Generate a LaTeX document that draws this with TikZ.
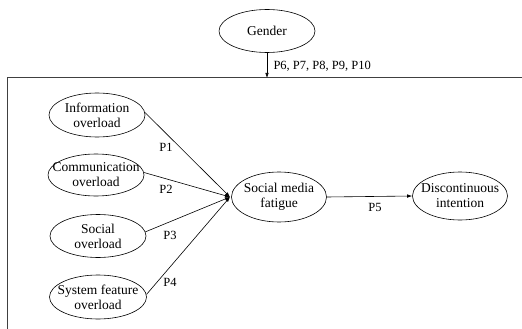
\documentclass[tikz,border=0pt]{standalone}
\usepackage{fontspec}
\setmainfont{Liberation Serif}
\usetikzlibrary{arrows.meta,shapes.geometric}
\newcommand{\zw}[1]{\makebox[0pt]{#1}}
\begin{document}
\begin{tikzpicture}[x=1pt,y=1pt,
  ell/.style={draw,ellipse,line width=0.6pt,inner sep=0pt,align=center,font=\fontsize{13.5}{15}\selectfont},
  lab/.style={font=\fontsize{12.5}{14}\selectfont},
  conn/.style={line width=0.6pt,-{Latex[length=5pt,width=3.5pt]}},
  frame/.style={line width=1pt,draw=black!75}
]
\useasboundingbox (0,0) rectangle (522,-329);
% frame
\coordinate (fr) at (522,-78);
\coordinate (fc) at (7,-78);
\coordinate (fb) at (7,-329);
\draw[frame] (fr) -- (fc) -- (fb);
% nodes
\node[ell,minimum width=96pt,minimum height=43pt] (gender) at (267,-31) {\zw{Gender}};
\node[ell,minimum width=96pt,minimum height=44pt] (info) at (97,-115) {\zw{Information}\\\zw{overload}};
\node[ell,minimum width=96pt,minimum height=42pt] (comm) at (96,-175) {\zw{Communication}\\\zw{overload}};
\node[ell,minimum width=96pt,minimum height=43pt] (soc) at (98,-236) {\zw{Social}\\\zw{overload}};
\node[ell,minimum width=97pt,minimum height=44pt] (sys) at (98,-297) {\zw{System feature}\\\zw{overload}};
\node[ell,minimum width=95pt,minimum height=50pt] (smf) at (279,-197) {\zw{Social media}\\\zw{fatigue}};
\node[ell,minimum width=95pt,minimum height=48pt] (di) at (460,-196) {\zw{Discontinuous}\\\zw{intention}};
\coordinate (j) at (230,-197);
\coordinate (gend) at (267,-78);
% connectors
\draw[conn] (gender.south) -- (gend);
\draw[conn] (info.3) -- (j);
\draw[conn] (comm.3) -- (j);
\draw[conn] (soc.5) -- (j);
\draw[conn] (sys.3) -- (j);
\draw[conn] (smf.east) -- (di.west);
% labels
\node[lab,anchor=west] (lg) at (270,-66) {P6, P7, P8, P9, P10};
\node[lab] (l1) at (166,-147) {P1};
\node[lab] (l2) at (166,-189) {P2};
\node[lab] (l3) at (170,-235) {P3};
\node[lab] (l4) at (170,-282) {P4};
\node[lab] (l5) at (375,-207) {P5};
\end{tikzpicture}
\end{document}
